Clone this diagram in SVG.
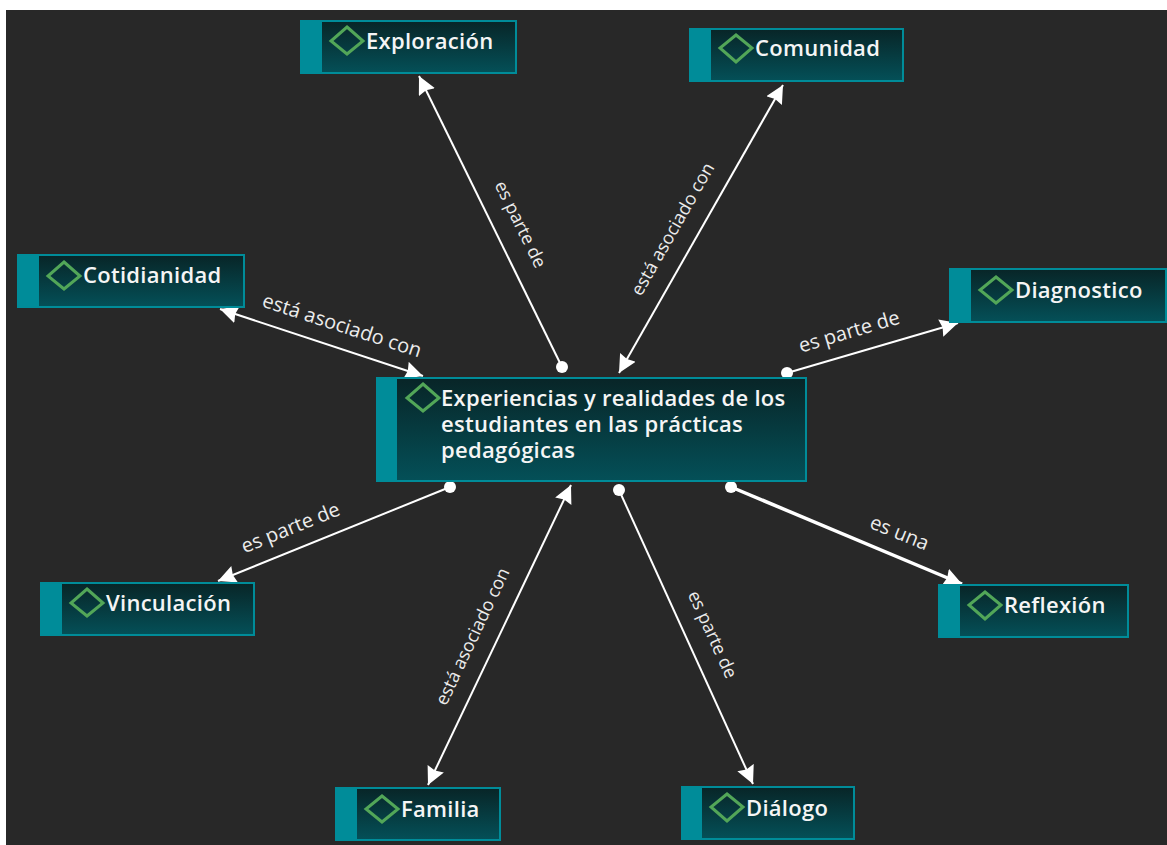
<svg xmlns="http://www.w3.org/2000/svg" width="1167" height="845" viewBox="0 0 1167 845">
<style>
.body{stroke:#008c99;stroke-width:2;fill:url(#g)}
.bar{fill:#008c99}
.dia{fill:none;stroke:#52a658;stroke-width:3}
.t{font-family:"Open Sans","Noto Sans",sans-serif;font-weight:600;font-size:22px;letter-spacing:.28px;fill:#f5f5f5}
.l{font-family:"Open Sans","Noto Sans",sans-serif;font-size:20px;fill:#ececec;text-anchor:middle}
.n{font-size:18px}
.c{stroke:#fff;stroke-width:2;fill:none}
.w{stroke-width:3.5}
.d{fill:#fff}
</style>
<defs>
<linearGradient id="g" x1="0" y1="0" x2="0" y2="1"><stop offset="0" stop-color="#082527"/><stop offset="1" stop-color="#045058"/></linearGradient>
<marker id="a" markerUnits="userSpaceOnUse" markerWidth="20" markerHeight="20" refX="18" refY="9" orient="auto"><path d="M0 0L18 9L0 18L2 9Z" fill="#fff"/></marker>
<marker id="s" markerUnits="userSpaceOnUse" markerWidth="20" markerHeight="20" refX="18" refY="9" orient="auto-start-reverse"><path d="M0 0L18 9L0 18L2 9Z" fill="#fff"/></marker>
</defs>
<rect width="1167" height="845" fill="#fff"/>
<rect x="6" y="10" width="1161" height="835" fill="#282828"/>
<g id="connectors">
<path class="c" d="M562 367L419 76" marker-end="url(#a)"/><circle class="d" cx="562" cy="367" r="6"/>
<path class="c" d="M619 373L783 85" marker-start="url(#s)" marker-end="url(#s)"/>
<path class="c" d="M220 309L423 376" marker-start="url(#s)" marker-end="url(#s)"/>
<path class="c" d="M787 373L958 323" marker-end="url(#a)"/><circle class="d" cx="787" cy="373" r="6"/>
<path class="c" d="M450 487L218 581" marker-end="url(#a)"/><circle class="d" cx="450" cy="487" r="6"/>
<path class="c" d="M571 485L428 785" marker-start="url(#s)" marker-end="url(#s)"/>
<path class="c" d="M619 490L753 784" marker-end="url(#a)"/><circle class="d" cx="619" cy="490" r="6"/>
<path class="c w" d="M731 487L962 584" marker-end="url(#a)"/><circle class="d" cx="731" cy="487" r="6"/>
<text class="l n" transform="translate(515 227) rotate(63.9)">es parte de</text>
<text class="l n" transform="translate(678 232) rotate(-60.4)">está asociado con</text>
<text class="l" transform="translate(340 332) rotate(18)">está asociado con</text>
<text class="l" transform="translate(851 338) rotate(-16.4)">es parte de</text>
<text class="l" transform="translate(293 534) rotate(-22)">es parte de</text>
<text class="l n" transform="translate(478 639) rotate(-64.7)">está asociado con</text>
<text class="l n" transform="translate(707 637) rotate(65.6)">es parte de</text>
<text class="l" transform="translate(897 539) rotate(22)">es una</text>
</g>
<g id="n-central"><rect class="body" x="377" y="378" width="429" height="103"/><rect class="bar" x="376" y="377" width="21" height="105"/><path class="dia" d="M423 384L439 398L423 411L407 398Z"/><text class="t" y="406"><tspan x="441">Experiencias y realidades de los</tspan><tspan x="441" dy="26">estudiantes en las prácticas</tspan><tspan x="441" dy="26">pedagógicas</tspan></text></g>
<g id="n-exploracion"><rect class="body" x="301" y="21" width="215" height="52"/><rect class="bar" x="300" y="20" width="22" height="54"/><path class="dia" d="M347 27L363 41L347 54L331 41Z"/><text class="t" x="366" y="49">Exploración</text></g>
<g id="n-comunidad"><rect class="body" x="690" y="29" width="213" height="52"/><rect class="bar" x="689" y="28" width="22" height="54"/><path class="dia" d="M736 35L752 48L736 62L720 48Z"/><text class="t" x="755" y="56">Comunidad</text></g>
<g id="n-cotidianidad"><rect class="body" x="18" y="255" width="226" height="52"/><rect class="bar" x="17" y="254" width="22" height="54"/><path class="dia" d="M64 262L80 276L64 289L48 276Z"/><text class="t" x="83" y="283">Cotidianidad</text></g>
<g id="n-diagnostico"><rect class="body" x="950" y="269" width="216" height="53"/><rect class="bar" x="949" y="268" width="22" height="55"/><path class="dia" d="M996 277L1012 290L996 303L980 290Z"/><text class="t" x="1015" y="298">Diagnostico</text></g>
<g id="n-vinculacion"><rect class="body" x="41" y="583" width="213" height="52"/><rect class="bar" x="40" y="582" width="22" height="54"/><path class="dia" d="M87 589L103 603L87 616L71 603Z"/><text class="t" x="106" y="611">Vinculación</text></g>
<g id="n-reflexion"><rect class="body" x="939" y="585" width="189" height="52"/><rect class="bar" x="938" y="584" width="22" height="54"/><path class="dia" d="M985 592L1001 605L985 619L969 605Z"/><text class="t" x="1004" y="613">Reflexión</text></g>
<g id="n-familia"><rect class="body" x="336" y="788" width="164" height="52"/><rect class="bar" x="335" y="787" width="22" height="54"/><path class="dia" d="M382 796L398 809L382 822L366 809Z"/><text class="t" x="401" y="817">Familia</text></g>
<g id="n-dialogo"><rect class="body" x="682" y="787" width="172" height="52"/><rect class="bar" x="681" y="786" width="21" height="54"/><path class="dia" d="M727 794L743 807L727 821L711 807Z"/><text class="t" x="746" y="816">Diálogo</text></g>
</svg>
